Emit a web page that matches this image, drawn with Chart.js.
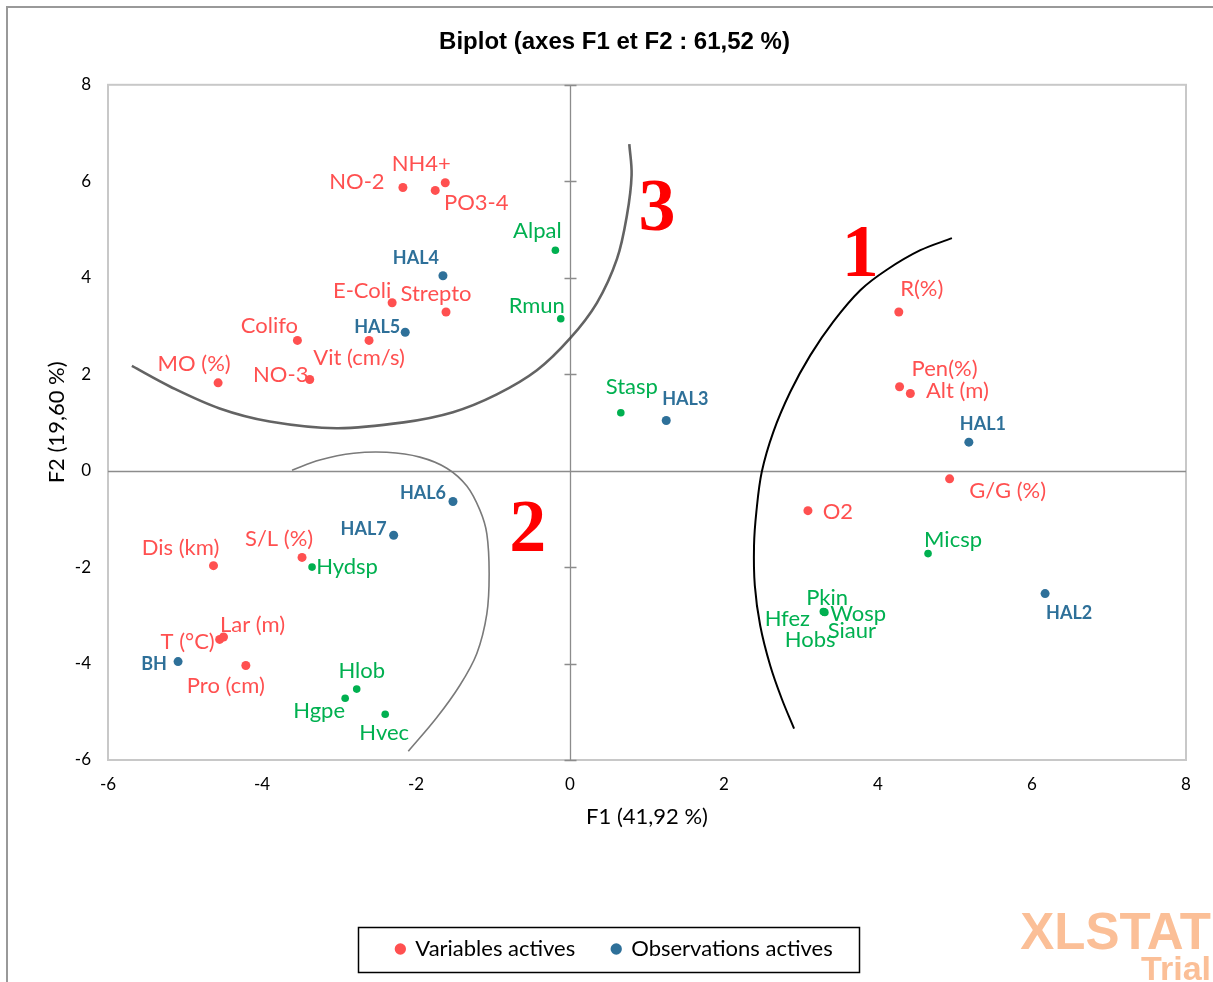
<!DOCTYPE html>
<html>
<head>
<meta charset="utf-8">
<script src="https://cdn.jsdelivr.net/npm/chart.js@4.4.1/dist/chart.umd.min.js"></script>
<style>
html, body { margin: 0; padding: 0; background: #fff; }
</style>
</head>
<body>
<canvas id="biplot" width="1213" height="982"></canvas>
<script>
// active variables (red)
const varNames = ['NO-2', 'NH4+', 'PO3-4', 'E-Coli', 'Strepto', 'Colifo', 'Vit (cm/s)', 'MO (%)', 'NO-3',
    'R(%)', 'Pen(%)', 'Alt (m)', 'G/G (%)', 'O2', 'Dis (km)', 'S/L (%)', 'T (°C)', 'Lar (m)', 'Pro (cm)'];
const varF1 = [-2.17, -1.62, -1.75, -2.31, -1.61, -3.54, -2.61, -4.57, -3.38,
    4.27, 4.28, 4.42, 4.93, 3.09, -4.63, -3.48, -4.55, -4.50, -4.21];
const varF2 = [5.87, 5.97, 5.81, 3.48, 3.29, 2.70, 2.70, 1.82, 1.89,
    3.29, 1.74, 1.60, -0.17, -0.83, -1.97, -1.80, -3.50, -3.45, -4.04];

// active observations (blue)
const obsNames = ['HAL4', 'HAL5', 'HAL3', 'HAL1', 'HAL6', 'HAL7', 'HAL2', 'BH'];
const obsF1 = [-1.65, -2.14, 1.25, 5.18, -1.52, -2.29, 6.17, -5.09];
const obsF2 = [4.04, 2.87, 1.04, 0.59, -0.64, -1.34, -2.55, -3.96];

// supplementary variables (green)
const supNames = ['Alpal', 'Rmun', 'Stasp', 'Micsp', 'Hobs', 'Siaur', 'Hfez', 'Wosp', 'Pkin', 'Hydsp', 'Hlob', 'Hgpe', 'Hvec'];
const supF1 = [-0.19, -0.12, 0.66, 4.65, 3.30, 3.31, 3.29, 3.30, 3.30, -3.35, -2.77, -2.92, -2.40];
const supF2 = [4.57, 3.15, 1.20, -1.72, -2.93, -2.94, -2.92, -2.93, -2.93, -2.00, -4.53, -4.72, -5.05];

// hand drawn groups
const curve1F1 = [4.96, 4.55, 4.11, 3.77, 3.42, 3.12, 2.86, 2.64, 2.49, 2.42, 2.39, 2.40, 2.47, 2.60, 2.75, 2.91];
const curve1F2 = [4.82, 4.57, 4.16, 3.74, 3.09, 2.39, 1.63, 0.80, -0.03, -0.86, -1.55, -2.38, -3.21, -4.04, -4.73, -5.35];
const curve2F1 = [-3.61, -3.25, -2.81, -2.38, -1.95, -1.60, -1.34, -1.17, -1.08, -1.05, -1.08, -1.21, -1.43, -1.73, -2.10];
const curve2F2 = [0.01, 0.22, 0.36, 0.38, 0.28, 0.05, -0.32, -0.82, -1.31, -2.14, -2.97, -3.79, -4.45, -5.12, -5.82];
const curve3F1 = [-5.69, -5.19, -4.55, -3.90, -3.03, -2.16, -1.52, -0.95, -0.43, 0.00, 0.35, 0.61, 0.74, 0.80, 0.77];
const curve3F2 = [2.17, 1.74, 1.29, 1.02, 0.88, 1.00, 1.21, 1.58, 2.08, 2.74, 3.48, 4.39, 5.30, 6.13, 6.77];
const groupNames = ['1', '2', '3'];
const groupF1 = [3.77, -0.55, 1.13];
const groupF2 = [4.44, -1.26, 5.38];

const ticksX = [-6, -4, -2, 0, 2, 4, 6, 8];
const ticksY = [-6, -4, -2, 0, 2, 4, 6, 8];

// label placement, pixels from the point
const labelOffsets = {
    'NO-2': [-46, -6], 'NH4+': [-24, -19], 'PO3-4': [41, 12], 'E-Coli': [-30, -12], 'Strepto': [-10, -18],
    'Colifo': [-28, -15], 'Vit (cm/s)': [-10, 17], 'MO (%)': [-24, -19], 'NO-3': [-29, -5], 'R(%)': [23, -23],
    'Pen(%)': [45, -18], 'Alt (m)': [47, -3], 'G/G (%)': [58, 12], 'O2': [30, 1], 'Dis (km)': [-33, -18],
    'S/L (%)': [-23, -19], 'T (°C)': [-32, 2], 'Lar (m)': [29, -12], 'Pro (cm)': [-20, 20],
    'HAL4': [-27, -18], 'HAL5': [-28, -5], 'HAL3': [19, -21], 'HAL1': [14, -18], 'HAL6': [-30, -8],
    'HAL7': [-30, -6], 'HAL2': [24, 20], 'BH': [-24, 3],
    'Alpal': [-18, -19], 'Rmun': [-24, -13], 'Stasp': [11, -26], 'Micsp': [25, -14], 'Pkin': [3, -14],
    'Wosp': [34, 2], 'Hfez': [-36, 7], 'Siaur': [27, 18], 'Hobs': [-14, 28], 'Hydsp': [35, 0],
    'Hlob': [5, -18], 'Hgpe': [-26, 13], 'Hvec': [-1, 19]
};

const RED = '#ff5050';
const BLUE = '#2e7099';
const GREEN = '#00b050';
const LABEL_FONT = 'Lato, "Open Sans", sans-serif';
const PAD_LEFT = 16;

function toPoints(xs, ys) {
    let pts = [];
    for (let i = 0; i < xs.length; i++) {
        pts.push({x: xs[i], y: ys[i]});
    }
    return pts;
}

function curve(xs, ys, color, width) {
    return {
        type: 'line',
        label: 'curve',
        data: toPoints(xs, ys),
        showLine: true,
        borderColor: color,
        borderWidth: width,
        pointRadius: 0,
        tension: 0.35,
        fill: false,
        order: 10
    };
}

// axes through the origin, plot frame and the outer frame
const framePlugin = {
    id: 'frame',
    beforeDatasetsDraw(chart) {
        const ctx = chart.ctx;
        const a = chart.chartArea;
        const sx = chart.scales.x, sy = chart.scales.y;
        ctx.save();
        ctx.strokeStyle = '#999';
        ctx.lineWidth = 2;
        ctx.beginPath();
        ctx.moveTo(7, chart.height);
        ctx.lineTo(7, 7);
        ctx.lineTo(chart.width, 7);
        ctx.stroke();

        ctx.strokeStyle = '#c8c8c8';
        ctx.lineWidth = 2;
        ctx.strokeRect(a.left, a.top, a.right - a.left, a.bottom - a.top);

        let x0 = Math.round(sx.getPixelForValue(0)) + 0.5;
        let y0 = Math.round(sy.getPixelForValue(0)) + 0.5;
        ctx.strokeStyle = '#8c8c8c';
        ctx.lineWidth = 1.3;
        ctx.beginPath();
        ctx.moveTo(x0, a.top);
        ctx.lineTo(x0, a.bottom);
        ctx.moveTo(a.left, y0);
        ctx.lineTo(a.right, y0);
        ticksY.forEach(v => {
            let py = Math.round(sy.getPixelForValue(v)) + 0.5;
            ctx.moveTo(x0 - 6, py);
            ctx.lineTo(x0 + 6, py);
        });
        ctx.stroke();
        ctx.restore();
    },
    afterDraw(chart) {
        const ctx = chart.ctx;
        const sx = chart.scales.x, sy = chart.scales.y;
        ctx.save();

        // point labels
        chart.data.datasets.forEach((ds, di) => {
            if (!ds.names) return;
            const meta = chart.getDatasetMeta(di);
            ctx.font = ds.labelFont;
            ctx.fillStyle = ds.labelColor;
            ctx.textAlign = 'center';
            ctx.textBaseline = 'middle';
            ds.names.forEach((name, i) => {
                const el = meta.data[i];
                const off = labelOffsets[name] || [0, -15];
                ctx.fillText(name, el.x + off[0], el.y + off[1]);
            });
        });

        // group numbers
        ctx.font = 'bold 74px "Liberation Serif", "Times New Roman", serif';
        ctx.fillStyle = '#ff0000';
        groupNames.forEach((g, i) => {
            ctx.fillText(g, sx.getPixelForValue(groupF1[i]), sy.getPixelForValue(groupF2[i]));
        });

        // legend frame
        const lg = chart.legend;
        if (lg && lg.legendHitBoxes.length) {
            let l = Infinity, r = -Infinity, t = Infinity, b = -Infinity;
            lg.legendHitBoxes.forEach(h => {
                l = Math.min(l, h.left); r = Math.max(r, h.left + h.width);
                t = Math.min(t, h.top); b = Math.max(b, h.top + h.height);
            });
            ctx.strokeStyle = '#000';
            ctx.lineWidth = 1.5;
            ctx.strokeRect(Math.round(l - 38) + 0.5, Math.round(t - 11) + 0.5, Math.round(r - l + 65), Math.round(b - t + 23));
        }

        // watermark
        ctx.textAlign = 'right';
        ctx.textBaseline = 'alphabetic';
        ctx.fillStyle = '#fbbf97';
        ctx.font = 'bold 51px "Liberation Sans", Arial, sans-serif';
        ctx.fillText('XLSTAT', 1211, 949);
        ctx.font = 'bold 34px "Liberation Sans", Arial, sans-serif';
        ctx.fillText('Trial', 1211, 980);
        ctx.restore();
    }
};

const ctx = document.getElementById('biplot');
new Chart(ctx, {
    type: 'scatter',
    data: {
        datasets: [
            {
                label: 'Variables actives',
                data: toPoints(varF1, varF2),
                names: varNames,
                labelFont: '22px ' + LABEL_FONT,
                labelColor: RED,
                backgroundColor: RED,
                borderColor: RED,
                pointRadius: 4.5,
                pointBorderWidth: 0,
                order: 3
            },
            {
                label: 'Observations actives',
                data: toPoints(obsF1, obsF2),
                names: obsNames,
                labelFont: 'bold 18px ' + LABEL_FONT,
                labelColor: BLUE,
                backgroundColor: BLUE,
                borderColor: BLUE,
                pointRadius: 4.5,
                pointBorderWidth: 0,
                order: 1
            },
            {
                label: 'Variables supplémentaires',
                data: toPoints(supF1, supF2),
                names: supNames,
                labelFont: '22px ' + LABEL_FONT,
                labelColor: GREEN,
                backgroundColor: GREEN,
                borderColor: GREEN,
                pointRadius: 3.8,
                pointBorderWidth: 0,
                order: 2
            },
            curve(curve1F1, curve1F2, '#000', 2),
            curve(curve2F1, curve2F2, '#7a7a7a', 1.6),
            curve(curve3F1, curve3F2, 'rgba(60,60,60,0.8)', 2.6)
        ]
    },
    options: {
        responsive: false,
        animation: false,
        devicePixelRatio: 1,
        layout: {padding: {left: PAD_LEFT, right: 0, top: 0, bottom: 12}},
        plugins: {
            tooltip: {enabled: false},
            title: {
                display: true,
                text: 'Biplot (axes F1 et F2 : 61,52 %)',
                color: '#000',
                font: {family: '"Liberation Sans", Arial, sans-serif', size: 24, weight: 'bold'},
                padding: {top: 28, bottom: 28}
            },
            legend: {
                position: 'bottom',
                labels: {
                    filter: item => item.datasetIndex <= 1,
                    sort: (a, b) => a.datasetIndex - b.datasetIndex,
                    usePointStyle: true,
                    pointStyle: 'circle',
                    boxWidth: 8,
                    boxHeight: 8,
                    padding: 37,
                    color: '#000',
                    font: {family: LABEL_FONT, size: 22}
                }
            }
        },
        scales: {
            x: {
                type: 'linear',
                min: -6,
                max: 8,
                afterBuildTicks: s => { s.ticks = ticksX.map(v => ({value: v})); },
                afterFit: s => {
                    const lg = s.chart.legend;
                    s.height = s.chart.height - 12 - (lg ? lg.height : 0) - 760;
                },
                grid: {display: false, drawTicks: false},
                border: {display: false},
                ticks: {padding: 14, color: '#000', font: {family: LABEL_FONT, size: 17}},
                title: {
                    display: true,
                    text: 'F1 (41,92 %)',
                    color: '#000',
                    font: {family: LABEL_FONT, size: 22},
                    padding: {top: 0, bottom: 71}
                }
            },
            y: {
                type: 'linear',
                min: -6,
                max: 8,
                afterBuildTicks: s => { s.ticks = ticksY.map(v => ({value: v})); },
                afterFit: s => { s.width = 108 - PAD_LEFT; },
                grid: {display: false, drawTicks: false},
                border: {display: false},
                ticks: {padding: 17, color: '#000', font: {family: LABEL_FONT, size: 17}},
                title: {
                    display: true,
                    text: 'F2 (19,60 %)',
                    color: '#000',
                    font: {family: LABEL_FONT, size: 22},
                    padding: {top: 28, bottom: 0}
                }
            },
            // empty right margin so the plot stops where the original does
            yRight: {
                type: 'linear',
                position: 'right',
                min: -6,
                max: 8,
                afterFit: s => { s.width = 27; },
                grid: {display: false, drawTicks: false},
                border: {display: false},
                ticks: {display: false}
            }
        }
    },
    plugins: [framePlugin]
});
</script>
</body>
</html>
